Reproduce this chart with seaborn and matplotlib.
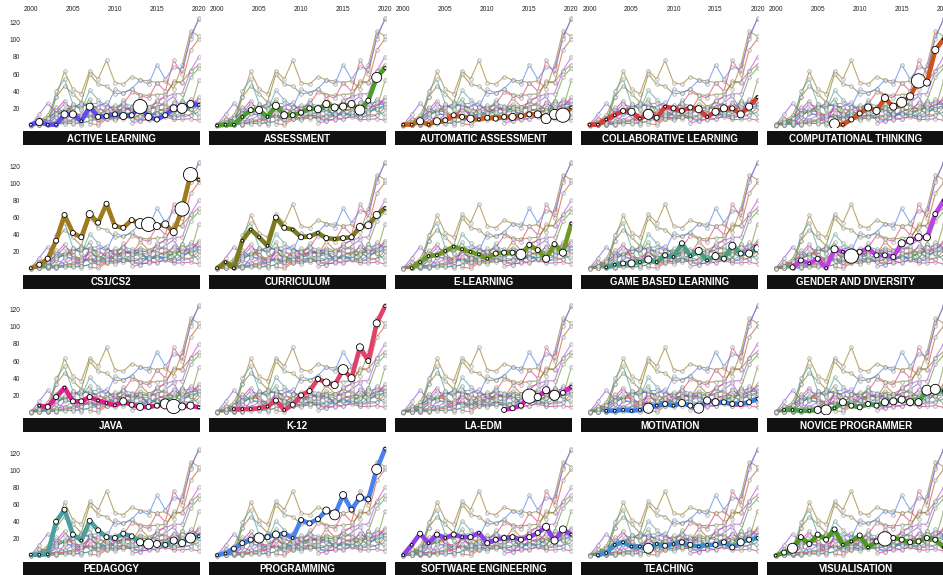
import numpy as np
import pandas as pd
import matplotlib
matplotlib.use("Agg")
import matplotlib.pyplot as plt
import seaborn as sns

nan = np.nan
years = list(range(2000, 2021))

# topic names, in panel order
topics = ["ACTIVE LEARNING", "ASSESSMENT", "AUTOMATIC ASSESSMENT", "COLLABORATIVE LEARNING",
          "COMPUTATIONAL THINKING", "CS1/CS2", "CURRICULUM", "E-LEARNING", "GAME BASED LEARNING",
          "GENDER AND DIVERSITY", "JAVA", "K-12", "LA-EDM", "MOTIVATION", "NOVICE PROGRAMMER",
          "PEDAGOGY", "PROGRAMMING", "SOFTWARE ENGINEERING", "TEACHING", "VISUALISATION"]

topic_colors = ["#5a4ff0", "#4a9e2e", "#c8621c", "#d93a3a", "#c9541e", "#a07a1c", "#7a7a1e",
                "#6e9a24", "#48a080", "#c040e8", "#e0208c", "#e0406a", "#e020c8", "#3a80e8",
                "#48a048", "#4aa0a0", "#4a80f0", "#9040e8", "#3a90d0", "#4a9a20"]

# number of papers per year (2000-2020)
active = [1, 4, 1, 1, 13, 13, 5, 22, 10, 11, 13, 11, 12, 22, 10, 7, 12, 20, 20, 25, 24]
assessment = [0, 1, 1, 10, 18, 18, 10, 23, 12, 12, 15, 20, 19, 25, 21, 22, 25, 18, 29, 56, 67]
autoassess = [1, 1, 5, 1, 5, 6, 12, 10, 8, 7, 9, 8, 10, 10, 11, 13, 13, 8, 13, 12, 21]
collab = [1, 1, 7, 12, 17, 16, 8, 13, 9, 22, 20, 17, 21, 19, 10, 16, 20, 20, 13, 22, 33]
ct = [nan, nan, nan, nan, nan, nan, nan, 2, 1, 7, 14, 21, 17, 32, 22, 27, 34, 52, 50, 88, 101]
cs = [1, 5, 12, 33, 63, 42, 37, 64, 54, 76, 50, 48, 57, 53, 52, 50, 52, 43, 70, 110, 104]
curriculum = [1, 8, 1, 33, 46, 37, 27, 60, 48, 46, 37, 38, 42, 36, 35, 36, 37, 49, 51, 63, 71]
elearning = [nan, 1, 8, 15, 16, 21, 26, 23, 20, 17, 12, 18, 19, 19, 17, 28, 22, 12, 29, 19, 53]
game = [nan, nan, 2, 5, 6.5, 6.5, 8, 11, 8, 16, 14, 30, 15, 21, 10, 15, 12, 27, 18, 18, 24]
gender = [nan, nan, 2, 10, 6.5, 12, 1, 23, 20, 15, 20, 24, 16, 16, 14, 30, 33, 37, 37, 64, 80]
java = [nan, 8, 6.5, 18, 29, 13, 13, 18, 14, 11, 8.5, 13, 9, 6.5, 6.5, 8, 10, 7, 7, 8, 6]
k12 = [nan, nan, 4, 4, 4, 5, 7, 14, 3, 9, 20, 25, 39, 35, 32, 50, 40, 76, 60, 104, 124]
laedm = [nan, nan, nan, nan, nan, nan, nan, nan, nan, nan, nan, nan, 3, 5, 8, 19, 18, 26, 20, 23, 30]
motivation = [nan, nan, 2, 2, 3, 2, 3, 5, 8, 10, 8, 11, 8, 5, 14, 12, 12, 10, 10, 12, 16]
novice = [nan, 3, 3, 2, 2, 3, 3, 5, 12, 8, 6, 10, 8, 12, 13, 15, 12, 12, 26, 27, 25]
pedagogy = [1.5, 1.5, 2, 40, 54, 25, 18, 41, 30, 22, 21, 26, 23, 16, 14, 14, 13, 18, 15, 21, 23]
programming = [1, 3, 8.5, 15, 19, 21, 22, 25, 26, 21, 42, 38, 43, 53, 48, 71, 54, 68, 66, 101, 125]
softeng = [1, 13, 26, 15, 25, 21, 25, 22, 22, 27, 15, 19, 21, 22, 19, 22, 27, 34, 18, 31, 25]
teaching = [nan, 1, 3.5, 13, 16, 11, 11, 9, 14, 12, 14, 16, 13, 11, 13, 13, 16, 10, 16, 19, 21]
visual = [0.5, 4, 9, 22, 14, 25, 19, 31, 13, 17, 24, 10, 17, 20, 21, 19, 16, 17, 21, 19, 10]

# circle size class (1 = tiny ... 5 = huge)
active_sz = [1, 3, 1, 1, 3, 3, 1, 3, 2, 2, 2, 3, 2, 5, 3, 2, 2, 3, 4, 3, 1]
assessment_sz = [1, 1, 1, 1, 2, 3, 1, 3, 3, 2, 2, 2, 3, 3, 3, 3, 3, 4, 2, 4, 1]
autoassess_sz = [1, 1, 3, 1, 3, 2, 2, 2, 3, 1, 2, 2, 2, 3, 2, 2, 3, 4, 4, 5, 1]
collab_sz = [1, 1, 1, 1, 2, 3, 1, 4, 2, 1, 2, 2, 2, 3, 1, 3, 3, 2, 3, 3, 1]
ct_sz = [1, 1, 1, 1, 1, 1, 1, 4, 1, 2, 2, 3, 3, 3, 3, 4, 3, 5, 3, 3, 1]
cs_sz = [1, 2, 2, 2, 2, 2, 2, 3, 2, 2, 2, 2, 2, 4, 5, 3, 3, 3, 5, 5, 1]
curriculum_sz = [1, 1, 1, 1, 1, 1, 1, 2, 2, 1, 2, 2, 1, 2, 1, 2, 2, 3, 3, 3, 1]
elearning_sz = [1, 1, 1, 1, 1, 1, 1, 1, 1, 1, 1, 2, 2, 2, 4, 2, 2, 3, 2, 3, 1]
game_sz = [1, 1, 1, 1, 2, 3, 1, 3, 1, 2, 1, 2, 1, 3, 1, 3, 2, 3, 2, 3, 3]
gender_sz = [1, 1, 2, 2, 1, 2, 1, 3, 1, 5, 2, 2, 2, 2, 2, 3, 3, 3, 3, 2, 1]
java_sz = [1, 1, 2, 2, 1, 2, 2, 2, 1, 1, 1, 3, 2, 3, 2, 2, 4, 5, 3, 3, 1]
k12_sz = [1, 1, 1, 1, 1, 1, 1, 2, 1, 2, 2, 2, 2, 3, 3, 4, 3, 3, 2, 3, 1]
laedm_sz = [1, 1, 1, 1, 1, 1, 1, 1, 1, 1, 1, 1, 2, 2, 2, 5, 3, 3, 4, 2, 1]
motivation_sz = [1, 1, 1, 1, 1, 1, 1, 4, 1, 2, 1, 3, 2, 4, 3, 3, 2, 2, 2, 2, 1]
novice_sz = [1, 1, 1, 1, 1, 3, 4, 1, 3, 2, 2, 2, 2, 3, 3, 3, 3, 3, 4, 4, 1]
pedagogy_sz = [1, 1, 1, 2, 2, 2, 1, 2, 2, 2, 2, 2, 2, 3, 4, 3, 2, 3, 3, 4, 1]
programming_sz = [1, 1, 2, 2, 2, 4, 2, 3, 2, 1, 2, 2, 2, 3, 4, 3, 2, 3, 2, 4, 1]
softeng_sz = [1, 1, 2, 1, 2, 1, 2, 1, 2, 1, 2, 2, 2, 2, 2, 2, 2, 3, 3, 3, 1]
teaching_sz = [1, 1, 1, 1, 1, 1, 1, 4, 1, 2, 1, 2, 2, 1, 1, 2, 2, 2, 3, 2, 1]
visual_sz = [1, 2, 4, 2, 2, 2, 2, 2, 1, 1, 2, 1, 2, 5, 2, 2, 2, 2, 2, 2, 1]

values = [active, assessment, autoassess, collab, ct, cs, curriculum, elearning, game, gender,
          java, k12, laedm, motivation, novice, pedagogy, programming, softeng, teaching, visual]
sizes = [active_sz, assessment_sz, autoassess_sz, collab_sz, ct_sz, cs_sz, curriculum_sz,
         elearning_sz, game_sz, gender_sz, java_sz, k12_sz, laedm_sz, motivation_sz, novice_sz,
         pedagogy_sz, programming_sz, softeng_sz, teaching_sz, visual_sz]

rows = []
for t, v, s in zip(topics, values, sizes):
    for y, val, sz in zip(years, v, s):
        rows.append((t, y, val, sz))
df = pd.DataFrame(rows, columns=["topic", "year", "papers", "size"]).dropna()
palette = dict(zip(topics, topic_colors))
size_map = {1: 4, 2: 13, 3: 26, 4: 52, 5: 105}

sns.set_style("white")
plt.rcParams["font.family"] = ["Liberation Sans", "DejaVu Sans"]

W, H = 943, 575
fig = plt.figure(figsize=(W / 100, H / 100), dpi=100)
ppu = 0.858  # pixels per unit on y

for i, topic in enumerate(topics):
    r, c = divmod(i, 5)
    left = 22.5 + 186.2 * c
    width = 177
    zero = 125.5 + 143.5 * r
    top = zero - 128 * ppu
    bottom = zero + 3 * ppu
    ax = fig.add_axes([left / W, 1 - bottom / H, width / W, (bottom - top) / H])

    # all topics in the background
    sns.lineplot(data=df, x="year", y="papers", hue="topic", palette=palette, ax=ax,
                 lw=0.8, alpha=0.65, marker="o", markersize=2.6, markerfacecolor="#f2f2f2",
                 markeredgecolor="#7a7a7a", markeredgewidth=0.5, legend=False, zorder=1)

    # highlighted topic
    sub = df[df["topic"] == topic]
    sns.lineplot(data=sub, x="year", y="papers", color=palette[topic], lw=3.3, ax=ax,
                 legend=False, zorder=3)
    ax.scatter(sub["year"], sub["papers"], s=sub["size"].map(size_map), facecolor="white",
               edgecolor="black", linewidth=0.6, zorder=4)

    ax.set_xlim(1999.0, 2020.07)
    ax.set_ylim(-3, 128)
    ax.set_xlabel("")
    ax.set_ylabel("")
    for sp in ax.spines.values():
        sp.set_visible(False)
    ax.tick_params(length=0, labelsize=4.8, pad=1.5)
    if c == 0:
        ax.set_yticks([20, 40, 60, 80, 100, 120])
    else:
        ax.set_yticks([])
    if r == 0:
        ax.set_xticks([2000, 2005, 2010, 2015, 2020])
        ax.xaxis.tick_top()
        ax.tick_params(axis="x", pad=2)
    else:
        ax.set_xticks([])

    # black title bar
    tb = fig.add_axes([left / W, 1 - (zero + 19.5) / H, width / W, 14 / H])
    tb.set_facecolor("#111111")
    tb.set_xticks([])
    tb.set_yticks([])
    for sp in tb.spines.values():
        sp.set_visible(False)
    tb.text(0.5, 0.45, topic, color="white", fontsize=7, fontweight="bold",
            ha="center", va="center", transform=tb.transAxes)

plt.savefig("out.png", dpi=100)
